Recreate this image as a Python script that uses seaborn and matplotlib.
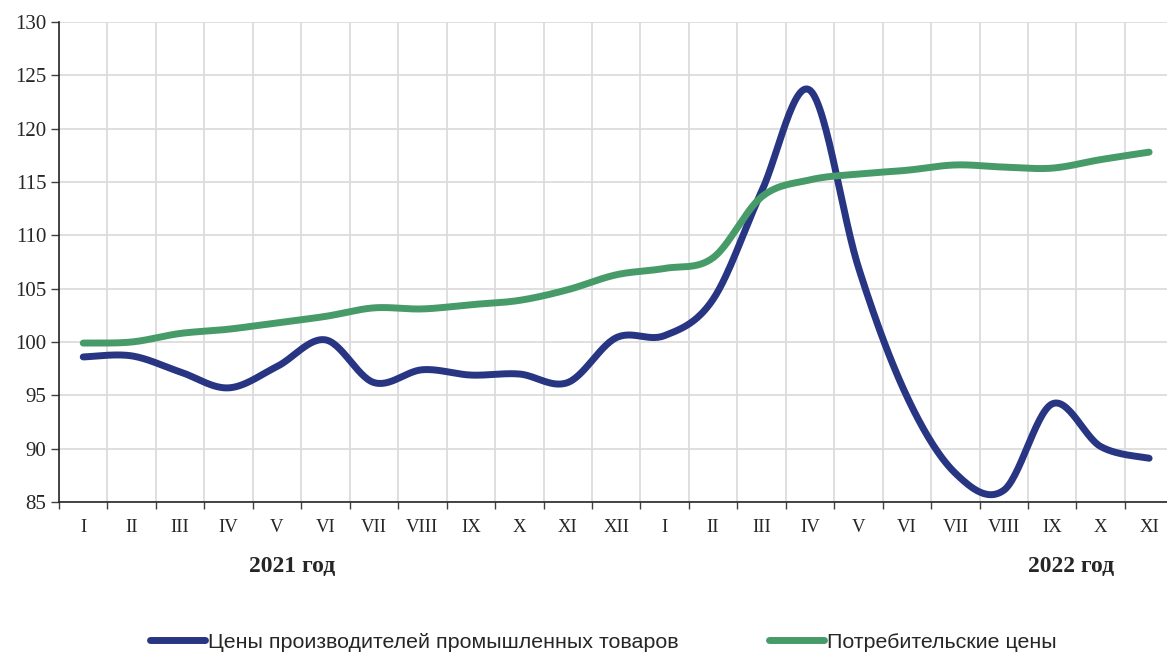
import numpy as np
import pandas as pd
import matplotlib
matplotlib.use("Agg")
import matplotlib.pyplot as plt
import seaborn as sns

# ---- data ----
months = ["I", "II", "III", "IV", "V", "VI", "VII", "VIII", "IX", "X", "XI", "XII",
          "I", "II", "III", "IV", "V", "VI", "VII", "VIII", "IX", "X", "XI"]
ppi = [98.6, 98.7, 97.2, 95.7, 97.7, 100.2, 96.2, 97.4, 96.9, 97.0, 96.2, 100.4,
       100.6, 104.0, 114.1, 123.6, 107.0, 94.9, 87.7, 86.1, 94.2, 90.2, 89.1]
cpi = [99.9, 100.0, 100.8, 101.2, 101.8, 102.4, 103.2, 103.1, 103.5, 103.9, 104.9, 106.3,
       106.9, 107.9, 113.6, 115.2, 115.75, 116.1, 116.6, 116.4, 116.3, 117.1, 117.8]
series_names = ["Цены производителей промышленных товаров", "Потребительские цены"]
year_labels = ["2021 год", "2022 год"]
yticks = [85, 90, 95, 100, 105, 110, 115, 120, 125, 130]

colors = ["#283583", "#469b69"]


def smooth(xs, ys, n=30):
    """Excel-like smoothed line (Catmull-Rom style cubic Bezier)."""
    P = np.column_stack([xs, ys]).astype(float)
    out = []
    m = len(P)
    for i in range(m - 1):
        p0 = P[i - 1] if i > 0 else P[i]
        p1 = P[i]
        p2 = P[i + 1]
        p3 = P[i + 2] if i + 2 < m else P[i + 1]
        c1 = p1 + (p2 - p0) / 6.0
        c2 = p2 - (p3 - p1) / 6.0
        t = np.linspace(0, 1, n, endpoint=(i == m - 2))[:, None]
        seg = ((1 - t) ** 3) * p1 + 3 * ((1 - t) ** 2) * t * c1 + 3 * (1 - t) * t ** 2 * c2 + t ** 3 * p2
        out.append(seg)
    return np.vstack(out)


x = np.arange(len(months))
frames = []
for name, vals in zip(series_names, [ppi, cpi]):
    s = smooth(x, vals)
    frames.append(pd.DataFrame({"x": s[:, 0], "y": s[:, 1], "series": name}))
df = pd.concat(frames, ignore_index=True)

sns.set_theme(style="white")
plt.rcParams["font.family"] = ["Liberation Serif", "DejaVu Serif"]

fig = plt.figure(figsize=(11.67, 6.54), dpi=100)
W, H = 1167, 654
left_px, right_px, top_px, bottom_px = 59, 59 + 23 * 48.45, 22, 502
ax = fig.add_axes([left_px / W, 1 - bottom_px / H, (right_px - left_px) / W, (bottom_px - top_px) / H])

sns.lineplot(data=df, x="x", y="y", hue="series", hue_order=series_names,
             palette=colors, estimator=None, sort=False, units="series",
             linewidth=5, ax=ax, legend=False, solid_capstyle="round")

ax.set_xlim(-0.5, len(months) - 0.5)
ax.set_ylim(85, 130)
ax.set_yticks(yticks)
ax.set_yticklabels([str(v) for v in yticks], fontsize=15)

ax.set_xticks(np.arange(len(months) + 1) - 0.5)
ax.set_xticklabels([])
ax.set_xticks(x, minor=True)
ax.set_xticklabels(months, minor=True, fontsize=13.5)
ax.tick_params(axis="x", which="major", direction="out", length=5, width=1, color="#404040",
               bottom=True)
ax.tick_params(axis="x", which="minor", length=0, pad=12)
ax.tick_params(axis="y", which="major", direction="out", length=6, width=1, color="#404040",
               left=True, pad=3)

ax.grid(True, which="major", axis="both", color="#dcdcdc", linewidth=1.3)
ax.set_axisbelow(True)
for sp in ["top", "right"]:
    ax.spines[sp].set_visible(False)
for sp in ["left", "bottom"]:
    ax.spines[sp].set_color("#262626")
    ax.spines[sp].set_linewidth(1.2)
ax.set_xlabel("")
ax.set_ylabel("")

fig.text(292 / W, 1 - 567 / H, year_labels[0], ha="center", va="center",
         fontsize=17, fontweight="bold")
fig.text(1071 / W, 1 - 567 / H, year_labels[1], ha="center", va="center",
         fontsize=17, fontweight="bold")

from matplotlib.lines import Line2D
handles = [Line2D([0], [0], color=c, linewidth=5, solid_capstyle="round") for c in colors]
fs = 15.4
em = fs * 100 / 72
leg = fig.legend(handles, series_names, loc="center left",
                 bbox_to_anchor=(150 / W, 1 - 642 / H), ncol=2, frameon=False,
                 prop={"family": ["Liberation Sans", "DejaVu Sans"], "size": fs},
                 handlelength=55 / em, handletextpad=3 / em, columnspacing=90 / em,
                 borderaxespad=0, borderpad=0)

fig.savefig("out.png", dpi=100)
